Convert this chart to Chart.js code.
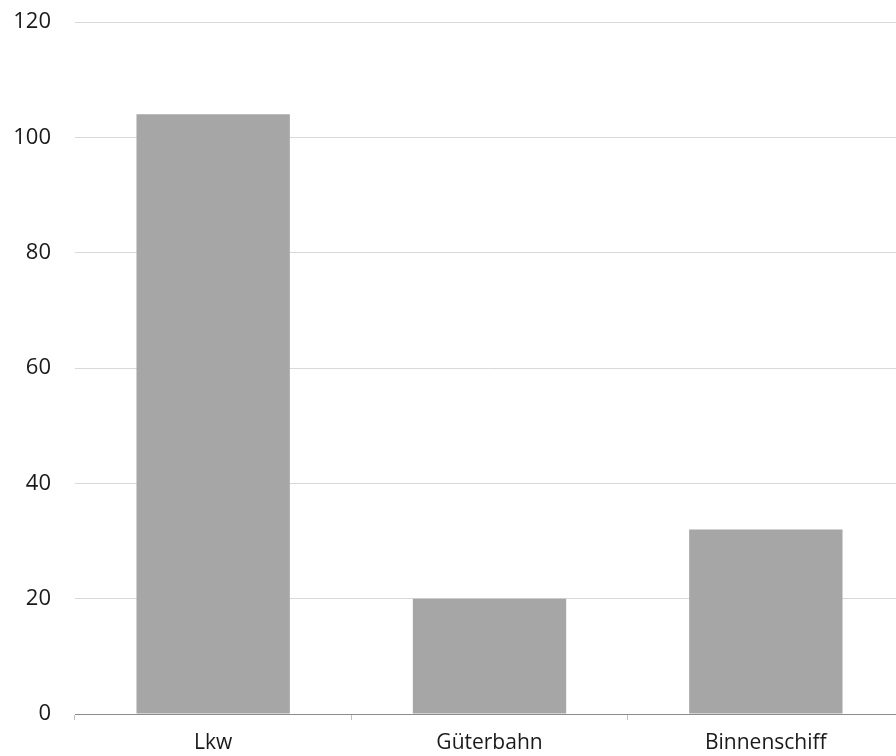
<!DOCTYPE html>
<html>
<head>
<meta charset="utf-8">
<script src="https://cdn.jsdelivr.net/npm/chart.js@4/dist/chart.umd.min.js"></script>
<style>
  html, body { margin: 0; padding: 0; background: #fff; overflow: hidden; width: 896px; height: 756px; }
  #wrap { position: relative; width: 904px; height: 756px; }
</style>
</head>
<body>
<div id="wrap"><canvas id="c" width="904" height="756"></canvas></div>
<script>
const categories = ["Lkw", "Güterbahn", "Binnenschiff"];
const values = [104, 20, 32];
const yTicks = [0, 20, 40, 60, 80, 100, 120];

const FONT = "'Open Sans', 'Noto Sans', sans-serif";
const PLOT_TOP = 22;

const fixTop = {
  id: 'fixTop',
  afterLayout(chart) {
    const y = chart.scales.y;
    const ca = chart.chartArea;
    ca.top = PLOT_TOP;
    ca.height = ca.bottom - ca.top;
    y.top = PLOT_TOP;
    y.height = y.bottom - y.top;
    y.configure();
  }
};

new Chart(document.getElementById('c'), {
  type: 'bar',
  data: {
    labels: categories,
    datasets: [{
      data: values,
      backgroundColor: '#a6a6a6',
      borderWidth: 0,
      categoryPercentage: 1,
      barPercentage: 0.555
    }]
  },
  plugins: [fixTop],
  options: {
    responsive: false,
    animation: false,
    layout: { padding: 0 },
    plugins: { legend: { display: false }, tooltip: { enabled: false } },
    scales: {
      x: {
        grid: { display: true, offset: true, drawOnChartArea: false, drawTicks: true, tickLength: 6, color: '#bfbfbf' },
        border: { display: true, color: '#8c8c8c', width: 1 },
        ticks: { color: '#1a1a1a', font: { family: FONT, size: 21 }, padding: 10 },
        afterFit: s => { s.height = 42; }
      },
      y: {
        min: 0, max: 120,
        afterBuildTicks: s => { s.ticks = yTicks.map(v => ({ value: v })); },
        grid: { color: '#d9d9d9', drawTicks: false },
        border: { display: false },
        ticks: { color: '#1a1a1a', font: { family: FONT, size: 22 }, padding: 24 },
        afterFit: s => { s.width = 75; }
      }
    }
  }
});
</script>
</body>
</html>
